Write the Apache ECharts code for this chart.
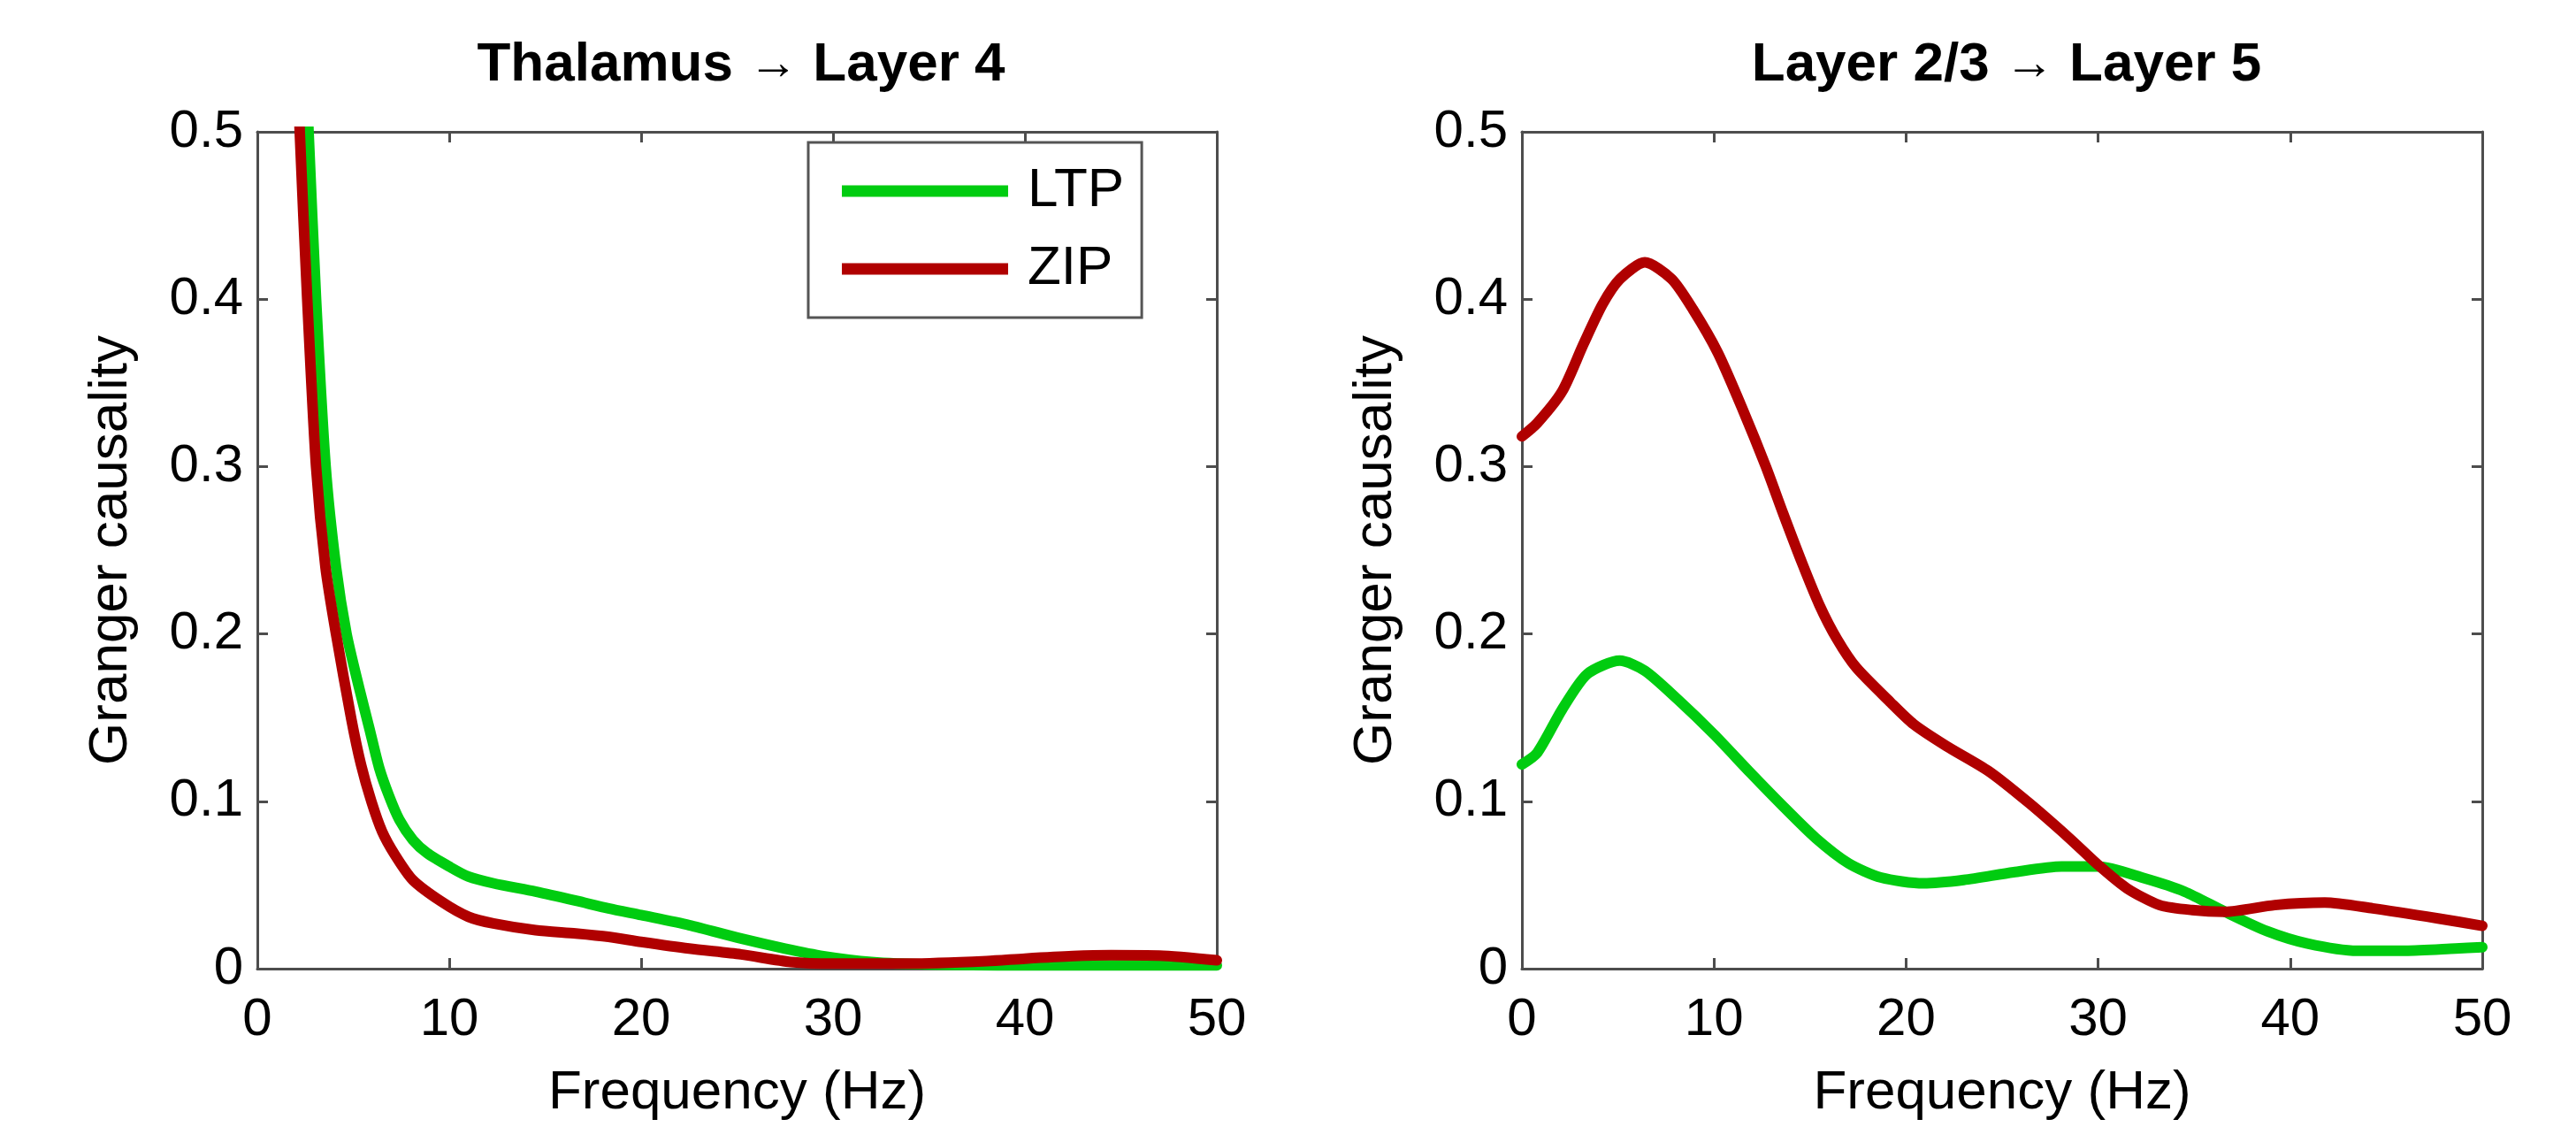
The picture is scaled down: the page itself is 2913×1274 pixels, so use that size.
<!DOCTYPE html>
<html>
<head>
<meta charset="utf-8">
<script src="https://cdn.jsdelivr.net/npm/echarts@6/dist/echarts.min.js"></script>
<style>
  html, body { margin: 0; padding: 0; background: #fff; }
  #chart { width: 2913px; height: 1274px; }
</style>
</head>
<body>
<div id="chart"></div>
<script>
// Spectral Granger causality, LTP vs ZIP, two connections
const panelTitles = ['Thalamus {arr|→} Layer 4', 'Layer 2/3 {arr|→} Layer 5'];
const seriesNames = ['LTP', 'ZIP'];
const xTicks = [0, 10, 20, 30, 40, 50];
const yTicks = [0, 0.1, 0.2, 0.3, 0.4, 0.5];

// Thalamus -> Layer 4: [frequency (Hz), Granger causality]
const thalL4_LTP = [
  [2.3, 0.6], [2.67, 0.5], [3.06, 0.4], [3.56, 0.3], [4.1, 0.24], [4.65, 0.2], [5.3, 0.168],
  [5.85, 0.143], [6.35, 0.12], [6.87, 0.103], [7.4, 0.089], [8.1, 0.077], [8.85, 0.069],
  [10, 0.061], [11, 0.055], [12.3, 0.051],
  [14.5, 0.046], [16.6, 0.0406], [18.3, 0.036], [20, 0.032], [22.5, 0.026],
  [25.2, 0.018], [27.5, 0.012], [29.5, 0.0075], [32, 0.004], [35, 0.0025],
  [40, 0.002], [45, 0.002], [50, 0.002]
];
const thalL4_ZIP = [
  [1.9, 0.6], [2.21, 0.5], [2.6, 0.4], [3.06, 0.3], [3.55, 0.24], [4.1, 0.2], [4.9, 0.149],
  [5.4, 0.122], [5.94, 0.1], [6.5, 0.082], [7.17, 0.068], [8.1, 0.053], [9.6, 0.04],
  [11, 0.031], [12.3, 0.027],
  [14.5, 0.023], [16.6, 0.021], [18.3, 0.019], [20, 0.016], [22.5, 0.012],
  [25.2, 0.0085], [27.8, 0.004], [30, 0.003], [34, 0.003], [38, 0.0045],
  [40, 0.006], [42.5, 0.0075], [44.5, 0.008], [47, 0.0078], [50, 0.005]
];

// Layer 2/3 -> Layer 5
const l23L5_LTP = [
  [0, 0.122], [0.8, 0.129], [2.1, 0.155], [3.4, 0.176], [5.1, 0.184], [6.4, 0.178],
  [8.1, 0.161], [10, 0.14], [11.9, 0.117], [13.6, 0.097], [15.3, 0.078], [17, 0.063],
  [18.7, 0.0544], [20.9, 0.051], [23, 0.053], [25.6, 0.0576], [28.1, 0.061], [30, 0.061],
  [32.4, 0.054], [34.5, 0.046], [36.6, 0.034], [38.8, 0.0224], [40.9, 0.015],
  [43.5, 0.0107], [46, 0.0107], [48.6, 0.012], [50, 0.0128]
];
const l23L5_ZIP = [
  [0, 0.318], [0.8, 0.326], [2.1, 0.345], [3.2, 0.373], [4.2, 0.397], [5.1, 0.412],
  [6.4, 0.422], [7.8, 0.412], [8.9, 0.394], [10.2, 0.368], [11.5, 0.334], [12.7, 0.3],
  [13.6, 0.272], [14.6, 0.242], [15.5, 0.217], [16.4, 0.197], [17.4, 0.18], [19.2, 0.159],
  [20.4, 0.146], [22.1, 0.133], [24.3, 0.118], [26.4, 0.099], [28.5, 0.078], [30, 0.062],
  [31.5, 0.048], [33.2, 0.038], [34.9, 0.035], [36.6, 0.034], [39.2, 0.038],
  [41.8, 0.0395], [44.3, 0.036], [47.7, 0.03], [50, 0.0256]
];

const FONT = '"Liberation Sans", Arial, Helvetica, sans-serif';
const AXIS_COLOR = '#4d4d4d';
const GREEN = '#00cc10';
const RED = '#b00000';

const grids = [
  { left: 291, top: 149, width: 1085, height: 946 },
  { left: 1721, top: 149, width: 1086, height: 946 }
];

const axisLineStyle = { show: true, onZero: false, lineStyle: { color: AXIS_COLOR, width: 3 } };
const tickIn = { show: true, inside: true, length: 12, lineStyle: { color: AXIS_COLOR, width: 3 } };

function xAxisPair(gi) {
  const base = {
    type: 'value', gridIndex: gi, min: xTicks[0], max: xTicks[xTicks.length - 1],
    interval: xTicks[1] - xTicks[0], splitLine: { show: false },
    axisLine: axisLineStyle, axisTick: tickIn
  };
  return [
    Object.assign({}, base, {
      position: 'bottom',
      name: 'Frequency (Hz)', nameLocation: 'middle', nameGap: 110,
      nameTextStyle: { fontSize: 62, color: '#000', fontFamily: FONT },
      axisLabel: { show: true, margin: 28, fontSize: 60, color: '#000', fontFamily: FONT }
    }),
    Object.assign({}, base, { position: 'top', axisLabel: { show: false } })
  ];
}

function yAxisPair(gi) {
  const base = {
    type: 'value', gridIndex: gi, min: yTicks[0], max: yTicks[yTicks.length - 1],
    interval: yTicks[1] - yTicks[0], splitLine: { show: false },
    axisLine: axisLineStyle, axisTick: tickIn
  };
  return [
    Object.assign({}, base, {
      position: 'left',
      name: 'Granger causality', nameLocation: 'middle', nameGap: 134,
      nameTextStyle: { fontSize: 62, color: '#000', fontFamily: FONT },
      axisLabel: {
        show: true, margin: 16, fontSize: 60, color: '#000', fontFamily: FONT,
        formatter: v => (v === 0 ? '0' : v.toFixed(1))
      }
    }),
    Object.assign({}, base, { position: 'right', axisLabel: { show: false } })
  ];
}

function line(name, data, color, axisIdx) {
  return {
    name, type: 'line', data, xAxisIndex: axisIdx, yAxisIndex: axisIdx,
    showSymbol: false, smooth: 0.25, clip: true,
    lineStyle: { color, width: 12, join: 'round', cap: 'round' }, itemStyle: { color },
    z: name === 'ZIP' ? 3 : 2
  };
}

const titleCenters = [833, 2264];

const option = {
  backgroundColor: '#fff',
  animation: false,
  title: panelTitles.map((t, i) => ({
    text: t, left: titleCenters[i], top: 38, textAlign: 'center',
    textStyle: {
      fontSize: 62, fontWeight: 'bold', color: '#000', fontFamily: FONT,
      rich: { arr: { fontSize: 56, fontWeight: 'normal', color: '#000', fontFamily: FONT } }
    }
  })),
  legend: {
    data: seriesNames, orient: 'vertical', left: 914, top: 161,
    padding: [24, 20, 24, 38], itemGap: 26, itemWidth: 188, itemHeight: 13,
    icon: 'rect', borderColor: '#555', borderWidth: 3, backgroundColor: '#fff',
    textStyle: { fontSize: 62, color: '#000', fontFamily: FONT, padding: [0, 0, 0, 17] }
  },
  grid: grids,
  xAxis: [...xAxisPair(0), ...xAxisPair(1)],
  yAxis: [...yAxisPair(0), ...yAxisPair(1)],
  series: [
    line('LTP', thalL4_LTP, GREEN, 0),
    line('ZIP', thalL4_ZIP, RED, 0),
    line('LTP', l23L5_LTP, GREEN, 2),
    line('ZIP', l23L5_ZIP, RED, 2)
  ]
};

echarts.init(document.getElementById('chart'), null, { renderer: 'canvas' }).setOption(option);
</script>
</body>
</html>
